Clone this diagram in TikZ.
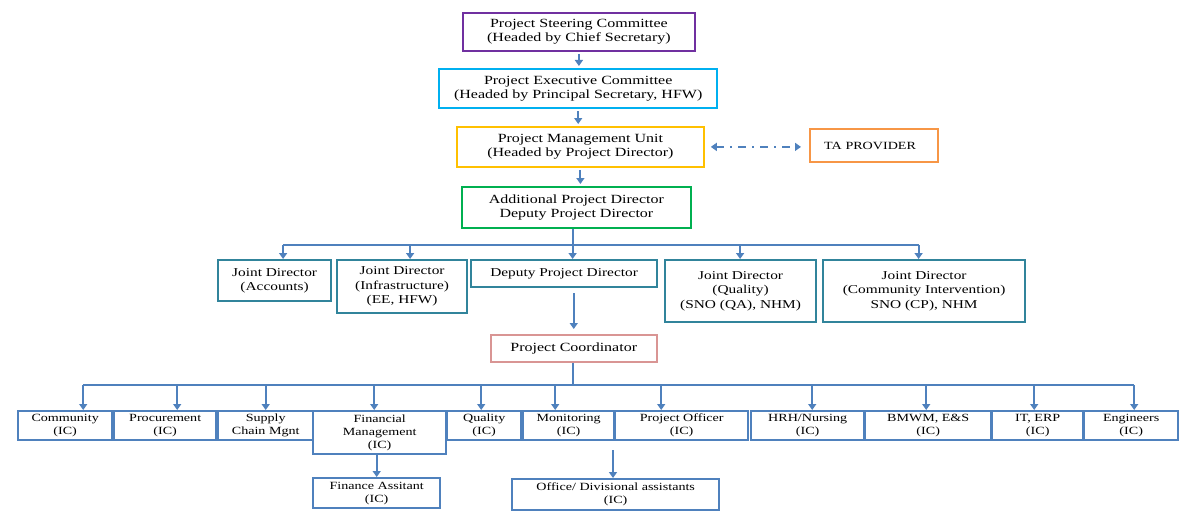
\documentclass[tikz,border=0pt]{standalone}
\usepackage{fontspec}
\setmainfont{Liberation Serif}[FakeStretch=1.28]
\usepackage{xcolor}
\usepackage{tikz}
\usetikzlibrary{positioning,arrows.meta}

\definecolor{steer}{HTML}{7030A0}
\definecolor{execc}{HTML}{00B0F0}
\definecolor{pmuc}{HTML}{FFC000}
\definecolor{tac}{HTML}{F79646}
\definecolor{apdc}{HTML}{00B050}
\definecolor{jdteal}{HTML}{31849B}
\definecolor{pcpink}{HTML}{D99594}
\definecolor{icblue}{HTML}{4F81BD}
\definecolor{lineblue}{HTML}{4F81BD}

\begin{document}
\begin{tikzpicture}[x=1pt,y=-1pt,
    box/.style={draw,line width=1.8pt,inner sep=0pt,align=center,anchor=north west,
        font=\fontsize{12.5}{14}\selectfont},
    jdbox/.style={box,draw=jdteal,line width=2.2pt,font=\fontsize{12}{14.5}\selectfont},
    icbox/.style={box,draw=icblue,line width=2.4pt,minimum height=29pt,
        font=\fontsize{11}{13}\selectfont},
    arr/.style={draw=lineblue,line width=2pt,-{Triangle[length=6pt,width=8pt]}},
    bus/.style={draw=lineblue,line width=2pt}]

        \useasboundingbox (0,0) rectangle (1186,519);

        % Committees
        \node[box,draw=steer,minimum width=232pt,minimum height=38pt] (psc) at (462,12)
            {Project Steering Committee\\(Headed by Chief Secretary)};
        \node[box,draw=execc,line width=2.4pt,minimum width=278pt,minimum height=39pt] (pec) at (438,68)
            {Project Executive Committee\\(Headed by Principal Secretary, HFW)};
        \node[box,draw=pmuc,minimum width=247pt,minimum height=40pt] (pmu) at (456,126)
            {Project Management Unit\\(Headed by Project Director)};
        \node[box,draw=tac,line width=2.4pt,minimum width=128pt,minimum height=33pt,
            text width=100pt,align=left,font=\fontsize{11}{13}\selectfont] (ta) at (809,128) {TA PROVIDER};
        \node[box,draw=apdc,minimum width=229pt,minimum height=41pt] (apd) at (461,186)
            {Additional Project Director\\Deputy Project Director};

        % Joint directors
        \node[jdbox,minimum width=113pt,minimum height=41pt] (jdacc) at (217,259)
            {Joint Director\\(Accounts)};
        \node[jdbox,minimum width=130pt,minimum height=53pt] (jdinf) at (336,259)
            {Joint Director\\(Infrastructure)\\(EE, HFW)};
        \node[jdbox,minimum width=186pt,minimum height=27pt] (dpd) at (470,259)
            {Deputy Project Director};
        \node[jdbox,minimum width=151pt,minimum height=62pt] (jdqua) at (664,259)
            {Joint Director\\(Quality)\\(SNO (QA), NHM)};
        \node[jdbox,minimum width=202pt,minimum height=62pt] (jdcom) at (822,259)
            {Joint Director\\(Community Intervention)\\SNO (CP), NHM};

        % Coordinator
        \node[box,draw=pcpink,line width=1.5pt,minimum width=166pt,minimum height=27pt] (pc) at (490,334)
            {Project Coordinator};

        % Individual consultants
        \node[icbox,minimum width=94pt] (comm) at (17,410) {Community\\(IC)};
        \node[icbox,minimum width=102pt] (proc) at (113,410) {Procurement\\(IC)};
        \node[icbox,minimum width=95pt] (supp) at (217,410) {Supply\\Chain Mgnt};
        \node[icbox,minimum width=133pt,minimum height=43pt] (fin) at (312,410) {Financial\\Management\\(IC)};
        \node[icbox,minimum width=74pt] (qual) at (446,410) {Quality\\(IC)};
        \node[icbox,minimum width=91pt] (moni) at (522,410) {Monitoring\\(IC)};
        \node[icbox,minimum width=133pt] (poff) at (614,410) {Project Officer\\(IC)};
        \node[icbox,minimum width=113pt] (hrh) at (750,410) {HRH/Nursing\\(IC)};
        \node[icbox,minimum width=126pt] (bmwm) at (864,410) {BMWM, E\&S\\(IC)};
        \node[icbox,minimum width=91pt] (iterp) at (991,410) {IT, ERP\\(IC)};
        \node[icbox,minimum width=94pt] (engr) at (1083,410) {Engineers\\(IC)};

        % Assistants
        \node[icbox,minimum width=127pt,minimum height=30pt] (finas) at (312,477) {Finance Assitant\\(IC)};
        \node[icbox,minimum width=207pt,minimum height=31pt] (offas) at (511,478) {Office/ Divisional assistants\\(IC)};

        % Top chain
        \draw[arr,shorten <=2pt,shorten >=2pt] (psc.south) -- (psc.south |- pec.north);
        \draw[arr,shorten <=2pt,shorten >=2pt] (pec.south) -- (pec.south |- pmu.north);
        \draw[arr,shorten <=2pt,shorten >=2pt] (pmu.south) -- (pmu.south |- apd.north);
        \draw[lineblue,line width=2pt,dash pattern=on 8pt off 6pt on 2pt off 6pt,
            {Triangle[length=6pt,width=8pt]}-{Triangle[length=6pt,width=8pt]},
            shorten <=6pt,shorten >=8pt] (pmu.east) -- (pmu.east -| ta.west);

        % Bus to joint directors
        \coordinate (busA) at (573,245);
        \draw[bus] (busA |- apd.south) -- (busA);
        \draw[bus] ([xshift=8.5pt]jdacc.north |- busA) -- ([xshift=-5.5pt]jdcom.north |- busA);
        \foreach \n/\dx in {jdacc/8.5,jdinf/8,dpd/8.5,jdqua/-0.5,jdcom/-5.5}
            \draw[arr] ([xshift=\dx pt]\n.north |- busA) -- ([xshift=\dx pt]\n.north);

        \draw[arr,shorten <=5pt,shorten >=5pt] (pc.north |- dpd.south) -- (pc.north);

        % Bus to consultants
        \coordinate (busB) at (573,385);
        \draw[bus] (busB |- pc.south) -- (busB);
        \draw[bus] ([xshift=18pt]comm.north |- busB) -- ([xshift=3pt]engr.north |- busB);
        \foreach \n/\dx in {comm/18,proc/12,supp/0,fin/-5.5,qual/-3,moni/-13.5,poff/-20.5,
            hrh/4.5,bmwm/-2,iterp/-3.5,engr/3}
            \draw[arr] ([xshift=\dx pt]\n.north |- busB) -- ([xshift=\dx pt]\n.north);

        % Assistants
        \draw[arr] (finas.north |- fin.south) -- (finas.north);
        \coordinate (offtop) at (613,450);
        \draw[arr] (offtop) -- (offtop |- offas.north);

\end{tikzpicture}
\end{document}
